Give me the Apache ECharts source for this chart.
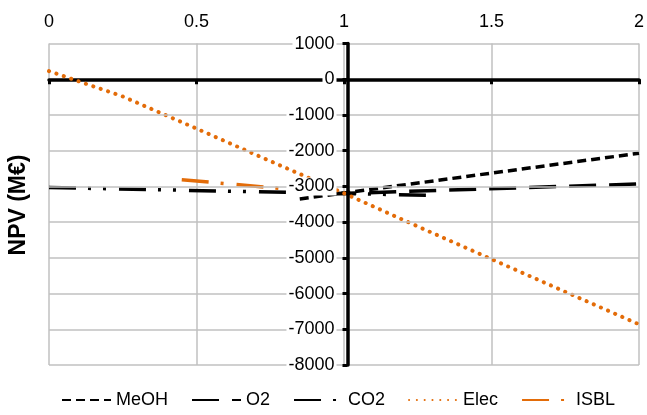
<!DOCTYPE html>
<html>
<head>
<meta charset="utf-8">
<script src="https://cdn.jsdelivr.net/npm/echarts@6/dist/echarts.min.js"></script>
<style>html,body{margin:0;padding:0;background:#fff}#c{width:647px;height:415px}</style>
</head>
<body>
<div id="c"></div>
<script>
// ---- data ----
const seriesNames = ['MeOH', 'O2', 'CO2', 'Elec', 'ISBL'];
const meohX = [0.85, 2];
const meohY = [-3350, -2070];
const o2X = [0.95, 2];
const o2Y = [-3210, -2930];
const co2X = [0, 1.3];
const co2Y = [-3030, -3250];
const elecX = [0, 0.25, 0.5, 0.75, 1, 1.25, 1.5, 1.75, 2];
const elecY = [230, -480, -1380, -2290, -3190, -4120, -5035, -5950, -6860];
const isblX = [0.45, 1.0];
const isblY = [-2810, -3220];
const xTicks = [0, 0.5, 1, 1.5, 2];
const yTicks = [1000, 0, -1000, -2000, -3000, -4000, -5000, -6000, -7000, -8000];

function pairs(xs, ys) { return xs.map((x, i) => [x, ys[i]]); }

const FONT = '"Liberation Sans", Arial, sans-serif';
const ORANGE = '#e36c09';
const GRID = '#c0c0c0';
const gridLeft = 49, gridRight = 1, gridTop = 43.6, gridBottom = 50;
const gridWidth = 647 - gridLeft - gridRight;

// horizontal grid line colours from min upward; the zero line is covered by the x axis
const ySplitColors = yTicks.slice().reverse().map(v => v === 0 ? 'rgba(0,0,0,0)' : GRID);

const chart = echarts.init(document.getElementById('c'), null, {renderer: 'canvas'});
const option = {
  animation: false,
  backgroundColor: '#fff',
  textStyle: {fontFamily: FONT},
  grid: {left: gridLeft, right: gridRight, top: gridTop, bottom: gridBottom, containLabel: false},
  legend: {
    data: seriesNames,
    left: 56, top: 386,
    itemWidth: 49, itemHeight: 14, itemGap: 23,
    textStyle: {fontFamily: FONT, fontSize: 18, color: '#000'},
    itemStyle: {opacity: 0}
  },
  graphic: [{
    type: 'text', x: 19, y: 205, rotation: Math.PI / 2,
    style: {text: 'NPV (M€)', font: 'bold 23px ' + FONT, fill: '#000', align: 'center', verticalAlign: 'middle'}
  }],
  xAxis: [{
    type: 'value', min: xTicks[0], max: xTicks[xTicks.length - 1], interval: 0.5,
    position: 'bottom',
    axisLine: {onZero: true, lineStyle: {color: '#000', width: 3.5}},
    axisTick: {show: true, length: 5, lineStyle: {color: '#000', width: 3}},
    axisLabel: {show: false},
    splitLine: {show: true, lineStyle: {color: GRID, width: 1.5}}
  }, {
    type: 'value', min: xTicks[0], max: xTicks[xTicks.length - 1], interval: 0.5,
    position: 'top',
    axisLine: {show: false, onZero: false},
    axisTick: {show: false},
    splitLine: {show: false},
    axisLabel: {show: true, margin: 13, fontSize: 18, color: '#000', fontFamily: FONT}
  }],
  yAxis: {
    type: 'value', min: yTicks[yTicks.length - 1], max: yTicks[0], interval: 1000,
    position: 'left', offset: -gridWidth / 2, z: 5,
    axisLine: {show: true, onZero: false, lineStyle: {color: '#000', width: 3.5}},
    axisTick: {show: true, length: 5, lineStyle: {color: '#000', width: 3}},
    axisLabel: {margin: 11, fontSize: 18, color: '#000', fontFamily: FONT, backgroundColor: '#fff', padding: [0, 2],
                formatter: v => String(v)},
    splitLine: {show: true, lineStyle: {color: ySplitColors, width: 1.5}}
  },
  series: [
    {name: 'MeOH', type: 'line', symbol: 'none', data: pairs(meohX, meohY), color: '#000',
     lineStyle: {color: '#000', width: 3.5, type: [9, 5]}},
    {name: 'O2', type: 'line', symbol: 'none', data: pairs(o2X, o2Y), color: '#000',
     lineStyle: {color: '#000', width: 3.5, type: [27, 13]}},
    {name: 'CO2', type: 'line', symbol: 'none', data: pairs(co2X, co2Y), color: '#000',
     lineStyle: {color: '#000', width: 3.5, type: [27, 12, 3, 12, 3, 13]}},
    {name: 'Elec', type: 'line', symbol: 'none', data: pairs(elecX, elecY), color: ORANGE,
     lineStyle: {color: ORANGE, width: 4, type: [0.1, 7.7], cap: 'round'}},
    {name: 'ISBL', type: 'line', symbol: 'none', data: pairs(isblX, isblY), color: ORANGE,
     lineStyle: {color: ORANGE, width: 3.5, type: [27, 12, 3, 13]}}
  ]
};
chart.setOption(option);
</script>
</body>
</html>
